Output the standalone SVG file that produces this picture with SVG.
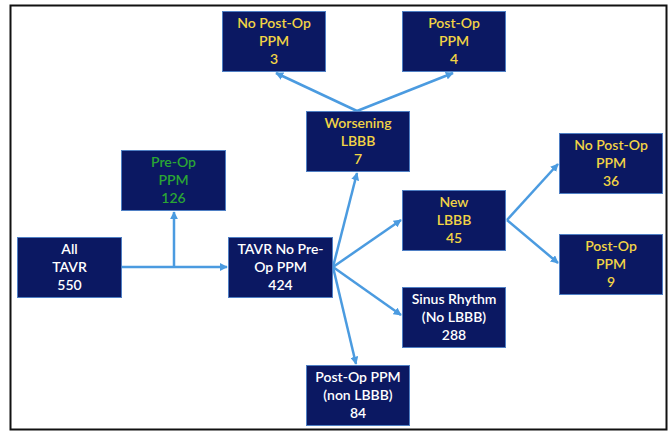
<svg xmlns="http://www.w3.org/2000/svg" width="670" height="432" viewBox="0 0 670 432">
<style>
.box{fill:#0b1862;stroke:#4f7fc4;stroke-width:1}
text{font-family:Lato,"Open Sans","Liberation Sans",sans-serif;font-size:14px;font-weight:600;text-anchor:middle}
.w{fill:#ffffff}.y{fill:#f2d445}.g{fill:#2aa534}
.c{stroke:#4b9be0;stroke-width:2.5;fill:none}
</style>
<defs>
<marker id="ah" viewBox="0 0 10 10" refX="9" refY="5" markerWidth="3.2" markerHeight="3.2" orient="auto" markerUnits="strokeWidth">
<path d="M0,0 L10,5 L0,10 Z" fill="#4b9be0"/>
</marker>
</defs>
<rect x="0" y="0" width="670" height="432" fill="#ffffff"/>
<rect x="10.5" y="5.5" width="656" height="424" fill="none" stroke="#111111" stroke-width="2"/>
<g id="connectors">
<path class="c" d="M121,267 L227,267" marker-end="url(#ah)"/>
<path class="c" d="M174,267 L174,212" marker-end="url(#ah)"/>
<path class="c" d="M333,267 L357,173" marker-end="url(#ah)"/>
<path class="c" d="M333,267 L401,220" marker-end="url(#ah)"/>
<path class="c" d="M333,267 L401,315" marker-end="url(#ah)"/>
<path class="c" d="M333,267 L356,364" marker-end="url(#ah)"/>
<path class="c" d="M357,111 L276,73" marker-end="url(#ah)"/>
<path class="c" d="M357,111 L453,73" marker-end="url(#ah)"/>
<path class="c" d="M507,220 L558,164" marker-end="url(#ah)"/>
<path class="c" d="M507,220 L558,263" marker-end="url(#ah)"/>
</g>
<g id="n-allTavr"><rect class="box" x="17.5" y="237.5" width="104" height="60"/>
<text class="w" x="69.5" y="254">All</text><text class="w" x="69.5" y="272">TAVR</text><text class="w" x="69.5" y="290">550</text></g>
<g id="n-preOp"><rect class="box" x="121.5" y="150.5" width="104" height="60"/>
<text class="g" x="173.5" y="167">Pre-Op</text><text class="g" x="173.5" y="185">PPM</text><text class="g" x="173.5" y="203">126</text></g>
<g id="n-noPreOp"><rect class="box" x="228.5" y="237.5" width="104" height="60"/>
<text class="w" x="280.5" y="254">TAVR No Pre-</text><text class="w" x="280.5" y="272">Op PPM</text><text class="w" x="280.5" y="290">424</text></g>
<g id="n-worsening"><rect class="box" x="306.5" y="111.5" width="103" height="60"/>
<text class="y" x="358" y="128">Worsening</text><text class="y" x="358" y="146">LBBB</text><text class="y" x="358" y="164">7</text></g>
<g id="n-noPostOp3"><rect class="box" x="222.5" y="11.5" width="103" height="60"/>
<text class="y" x="274" y="28">No Post-Op</text><text class="y" x="274" y="46">PPM</text><text class="y" x="274" y="64">3</text></g>
<g id="n-postOp4"><rect class="box" x="402.5" y="11.5" width="103" height="60"/>
<text class="y" x="454" y="28">Post-Op</text><text class="y" x="454" y="46">PPM</text><text class="y" x="454" y="64">4</text></g>
<g id="n-newLbbb"><rect class="box" x="402.5" y="190.5" width="103" height="60"/>
<text class="y" x="454" y="207">New</text><text class="y" x="454" y="225">LBBB</text><text class="y" x="454" y="243">45</text></g>
<g id="n-noPostOp36"><rect class="box" x="559.5" y="133.5" width="103" height="60"/>
<text class="y" x="611" y="150">No Post-Op</text><text class="y" x="611" y="168">PPM</text><text class="y" x="611" y="186">36</text></g>
<g id="n-postOp9"><rect class="box" x="559.5" y="234.5" width="103" height="60"/>
<text class="y" x="611" y="251">Post-Op</text><text class="y" x="611" y="269">PPM</text><text class="y" x="611" y="287">9</text></g>
<g id="n-sinus"><rect class="box" x="402.5" y="287.5" width="103" height="60"/>
<text class="w" x="454" y="304">Sinus Rhythm</text><text class="w" x="454" y="322">(No LBBB)</text><text class="w" x="454" y="340">288</text></g>
<g id="n-postOpNonLbbb"><rect class="box" x="306.5" y="365.5" width="103" height="60"/>
<text class="w" x="358" y="382">Post-Op PPM</text><text class="w" x="358" y="400">(non LBBB)</text><text class="w" x="358" y="418">84</text></g>
</svg>
